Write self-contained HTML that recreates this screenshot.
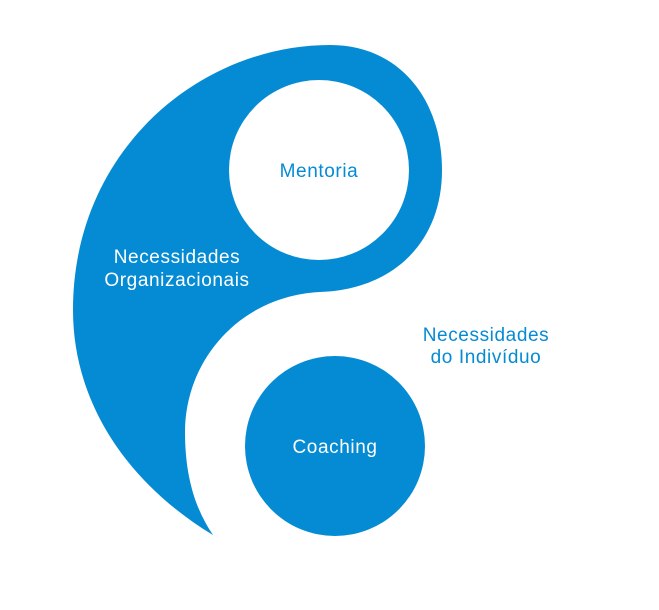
<!DOCTYPE html>
<html><head><meta charset="utf-8"><style>
html,body{margin:0;padding:0;background:#fff;}
svg{display:block;}
text{font-family:"Liberation Sans",sans-serif;font-size:19px;letter-spacing:0.6px;}
</style></head><body>
<svg width="659" height="610" viewBox="0 0 659 610">
<path d="M213,535 C130,485 73,405 73,310 C73,150 200,45 330,45 C400,45 442,100 442,170 C442,245 390,290 320,292 C240,296 185,360 185,432 C185,478 196,510 213,535 Z" fill="#058bd3"/>
<circle cx="319" cy="170" r="90" fill="#fff"/>
<circle cx="335" cy="446" r="90" fill="#058bd3"/>
<text x="319" y="177" text-anchor="middle" fill="#058bd3">Mentoria</text>
<text x="335" y="453" text-anchor="middle" fill="#fff">Coaching</text>
<text x="177" y="263" text-anchor="middle" fill="#fff">Necessidades</text>
<text x="177" y="286" text-anchor="middle" fill="#fff">Organizacionais</text>
<text x="486" y="341" text-anchor="middle" fill="#058bd3">Necessidades</text>
<text x="486" y="363" text-anchor="middle" fill="#058bd3">do Indivíduo</text>
</svg>
</body></html>
